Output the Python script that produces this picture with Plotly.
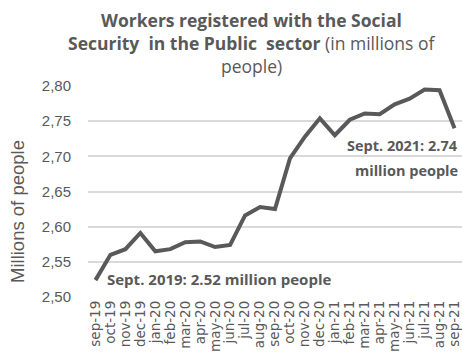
import plotly.graph_objects as go

months = ["sep-19","oct-19","nov-19","dec-19","jan-20","feb-20","mar-20","apr-20","may-20","jun-20",
          "jul-20","aug-20","sep-20","oct-20","nov-20","dec-20","jan-21","feb-21","mar-21","apr-21",
          "may-21","jun-21","jul-21","aug-21","sep-21"]
workers = [2.524, 2.560, 2.568, 2.591, 2.565, 2.568, 2.578, 2.579, 2.571, 2.574,
           2.616, 2.628, 2.625, 2.697, 2.728, 2.754, 2.730, 2.752, 2.761, 2.760,
           2.774, 2.782, 2.795, 2.794, 2.740]
y_ticks = [2.50, 2.55, 2.60, 2.65, 2.70, 2.75, 2.80]
y_ticklabels = ["2,50", "2,55", "2,60", "2,65", "2,70", "2,75", "2,80"]
title_lines = ["<b>Workers registered with the Social</b>",
               "<b>Security  in the Public  sector</b> (in millions of",
               "people)"]

GREY = "#595959"
FONT = "Open Sans"
AXFONT = "Liberation Sans"

W, H = 462, 358
ML, MR, MT, MB = 88, 0, 86, 61
PW, PH = W - ML - MR, H - MT - MB

fig = go.Figure()
fig.add_trace(go.Scatter(x=months, y=workers, mode="lines",
                         line=dict(color=GREY, width=4), cliponaxis=False,
                         hoverinfo="skip"))

# title lines (placed individually to get the wide line spacing)
for txt, ypx in zip(title_lines, [20, 43, 66]):
    fig.add_annotation(xref="paper", yref="paper",
                       x=(251 - ML) / PW, y=1 + (MT - ypx) / PH,
                       text=txt, showarrow=False, xanchor="center", yanchor="middle",
                       font=dict(family=FONT, size=17.5, color=GREY))

# y-axis title
fig.add_annotation(xref="paper", yref="paper",
                   x=(17 - ML) / PW, y=1 - (212 - MT) / PH,
                   text="Millions of people", textangle=-90, showarrow=False,
                   xanchor="center", yanchor="middle",
                   font=dict(family=AXFONT, size=18.5, color=GREY))

fig.add_annotation(x=months[0], y=workers[0], xref="x", yref="y",
                   text="<b>Sept. 2019: 2.52 million people</b>",
                   showarrow=False, xanchor="left", yanchor="middle",
                   xshift=10, yshift=1,
                   font=dict(family=FONT, size=15, color=GREY))
for txt, ys in [("<b>Sept. 2021: 2.74</b>", -17), ("<b>million people</b>", -42)]:
    fig.add_annotation(x=months[-1], y=workers[-1], xref="x", yref="y",
                       text=txt, showarrow=False, xanchor="right", yanchor="middle",
                       xshift=5, yshift=ys,
                       font=dict(family=FONT, size=14.5, color=GREY))

fig.update_layout(
    width=W, height=H,
    margin=dict(l=ML, r=MR, t=MT, b=MB),
    paper_bgcolor="white", plot_bgcolor="white",
    showlegend=False,
    xaxis=dict(type="category", tickangle=-90, showgrid=False, zeroline=False,
               showline=False, ticks="", tickmode="array", tickvals=months,
               ticktext=months,
               tickfont=dict(family="DejaVu Sans", size=13.5, color=GREY),
               range=[-0.5, len(months) - 0.5]),
    yaxis=dict(range=[2.50, 2.80], tickvals=y_ticks, ticktext=y_ticklabels,
               showgrid=True, gridcolor="#d9d9d9", gridwidth=1.5, zeroline=False,
               showline=False, ticks="", ticklabelstandoff=16,
               tickfont=dict(family=AXFONT, size=15, color=GREY)),
)

fig.write_html("out.html")
